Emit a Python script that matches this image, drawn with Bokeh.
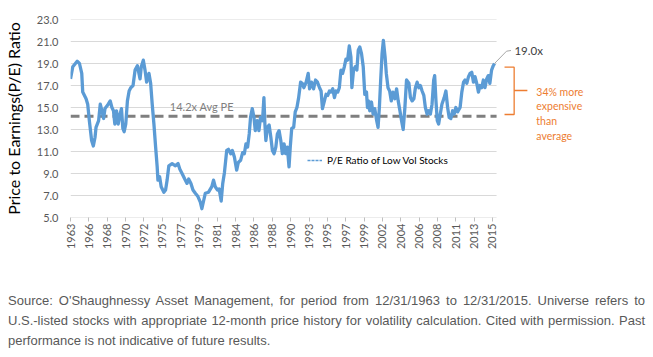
import math
from bokeh.plotting import figure
from bokeh.models import (Range1d, FixedTicker, PrintfTickFormatter, Label,
                          Legend, LegendItem, Div)
from bokeh.layouts import column
from bokeh.embed import file_html
from bokeh.resources import INLINE

# ---------------- data ----------------
years = [1964.00, 1964.28, 1964.82, 1965.10, 1965.38, 1965.50, 1965.91, 1966.11,
         1966.31, 1966.59, 1966.80, 1967.01, 1967.13, 1967.45, 1967.65, 1967.86,
         1968.06, 1968.23, 1968.54, 1968.87, 1969.08, 1969.27, 1969.44, 1969.64,
         1969.85, 1970.05, 1970.25, 1970.42, 1970.58, 1970.78, 1970.98, 1971.19,
         1971.39, 1971.67, 1971.92, 1972.20, 1972.53, 1972.68, 1972.93, 1973.14,
         1973.34, 1973.62, 1973.83, 1974.02, 1974.23, 1974.44, 1974.63, 1974.72,
         1974.93, 1975.12, 1975.45, 1975.66, 1975.85, 1976.06, 1976.46, 1976.87,
         1977.19, 1977.40, 1977.68, 1978.01, 1978.29, 1978.49, 1978.77, 1979.02,
         1979.31, 1979.63, 1979.92, 1980.11, 1980.32, 1980.53, 1980.93, 1981.33,
         1981.54, 1981.75, 1982.03, 1982.23, 1982.48, 1982.67, 1982.88, 1983.16,
         1983.37, 1983.65, 1983.85, 1984.10, 1984.38, 1984.58, 1984.86, 1985.11,
         1985.32, 1985.52, 1985.72, 1985.92, 1986.08, 1986.29, 1986.50, 1986.66,
         1986.90, 1987.11, 1987.30, 1987.55, 1987.72, 1987.84, 1987.96, 1988.15,
         1988.36, 1988.57, 1988.76, 1988.97, 1989.18, 1989.37, 1989.58, 1989.79,
         1989.98, 1990.19, 1990.39, 1990.59, 1990.80, 1990.95, 1991.13, 1991.37,
         1991.56, 1991.77, 1991.98, 1992.22, 1992.42, 1992.62, 1992.90, 1993.15,
         1993.32, 1993.56, 1993.81, 1994.05, 1994.29, 1994.54, 1994.73, 1994.90,
         1995.14, 1995.34, 1995.55, 1995.75, 1995.95, 1996.16, 1996.37, 1996.56,
         1996.77, 1996.97, 1997.17, 1997.37, 1997.58, 1997.78, 1997.98, 1998.19,
         1998.39, 1998.51, 1998.71, 1998.92, 1999.12, 1999.29, 1999.48, 1999.69,
         1999.90, 2000.09, 2000.30, 2000.42, 2000.54, 2000.70, 2000.91, 2001.11,
         2001.31, 2001.55, 2001.72, 2001.88, 2002.04, 2002.21, 2002.37, 2002.58,
         2002.73, 2002.94, 2003.14, 2003.34, 2003.55, 2003.79, 2003.99, 2004.19,
         2004.40, 2004.60, 2004.80, 2005.01, 2005.21, 2005.50, 2005.69, 2005.90,
         2006.11, 2006.30, 2006.51, 2006.72, 2006.91, 2007.12, 2007.33, 2007.52,
         2007.73, 2007.93, 2008.13, 2008.34, 2008.54, 2008.66, 2008.82, 2008.98,
         2009.15, 2009.35, 2009.55, 2009.83, 2010.04, 2010.25, 2010.44, 2010.65,
         2010.86, 2011.05, 2011.26, 2011.47, 2011.78, 2011.99, 2012.20, 2012.39,
         2012.60, 2012.81, 2013.00, 2013.21, 2013.42, 2013.61, 2013.82, 2014.03,
         2014.22, 2014.43, 2014.63, 2014.83, 2015.04, 2015.24, 2015.43, 2015.64,
         2015.85, 2016.00]
pe = [17.6, 18.7, 19.2, 19.0, 18.1, 16.4, 15.8, 15.3,
      13.8, 12.0, 11.5, 12.3, 13.2, 13.8, 15.3, 14.7,
      14.0, 14.9, 15.2, 15.6, 15.0, 14.7, 13.5, 14.7,
      13.5, 14.3, 14.9, 13.1, 12.8, 13.5, 15.6, 16.5,
      16.8, 17.0, 18.4, 18.8, 17.6, 18.7, 19.3, 18.4,
      17.3, 18.1, 17.2, 15.3, 13.5, 11.4, 9.6, 8.4,
      8.7, 7.8, 7.3, 7.5, 8.4, 9.7, 9.9, 9.7,
      9.9, 9.4, 9.0, 8.5, 8.1, 8.5, 8.1, 7.5,
      7.2, 6.9, 6.4, 5.8, 6.5, 7.2, 7.3, 7.8,
      8.4, 7.8, 7.5, 7.6, 6.5, 8.1, 9.1, 11.1,
      11.2, 10.8, 11.1, 10.5, 9.3, 10.0, 10.2, 10.9,
      10.8, 11.7, 11.4, 12.6, 14.1, 14.9, 14.1, 12.9,
      13.8, 12.9, 14.1, 13.8, 15.9, 13.5, 12.0, 13.2,
      13.4, 12.3, 11.1, 10.8, 11.4, 12.6, 12.9, 12.0,
      10.8, 11.7, 10.8, 11.4, 9.6, 11.4, 13.1, 13.2,
      14.6, 15.0, 15.9, 17.3, 17.2, 16.8, 17.3, 18.1,
      16.7, 17.3, 16.7, 17.5, 17.3, 16.8, 16.5, 14.9,
      15.6, 16.2, 16.1, 16.5, 16.4, 16.7, 15.9, 16.5,
      16.4, 16.8, 18.4, 18.1, 18.7, 19.4, 19.3, 20.6,
      19.6, 16.8, 18.4, 18.7, 18.4, 20.2, 20.5, 19.9,
      18.7, 16.2, 16.4, 15.0, 15.6, 14.7, 15.5, 14.4,
      14.9, 13.8, 13.2, 15.0, 17.5, 19.9, 21.1, 19.6,
      18.1, 16.8, 16.5, 15.6, 16.4, 15.8, 16.7, 15.6,
      14.7, 13.8, 13.0, 15.0, 17.5, 17.2, 15.9, 15.6,
      15.8, 16.8, 17.3, 16.8, 17.0, 16.5, 16.1, 15.0,
      14.4, 14.7, 14.4, 15.3, 17.5, 17.9, 15.6, 13.8,
      13.5, 14.4, 15.3, 15.9, 16.5, 15.0, 14.1, 14.0,
      14.7, 14.4, 15.0, 14.6, 15.0, 16.4, 17.3, 17.5,
      17.2, 17.8, 18.1, 18.2, 17.3, 17.8, 17.2, 16.4,
      17.0, 16.8, 17.5, 16.8, 17.6, 17.9, 17.2, 18.4,
      18.8, 19.0]
tick_labels = ["1963", "1966", "1968", "1970", "1972", "1975", "1977", "1979",
               "1981", "1984", "1986", "1988", "1990", "1993", "1995", "1997",
               "1999", "2002", "2004", "2006", "2008", "2011", "2013", "2015"]
y_ticks = [5, 7, 9, 11, 13, 15, 17, 19, 21, 23]
avg_pe = 14.2
series_name = "P/E Ratio of Low Vol Stocks"
premium_lines = ["34% more", "expensive", "than", "average"]
y_title = "Price to Earnings(P/E) Ratio"
footnote = ("Source: O'Shaughnessy Asset Management, for period from 12/31/1963 to 12/31/2015. "
            "Universe refers to U.S.-listed stocks with appropriate 12-month price history for "
            "volatility calculation. Cited with permission. Past performance is not indicative "
            "of future results.")

# ---------------- layout helpers ----------------
FONT = "Lato"
W, H = 653, 280
LEFT, TOP = 66, 19
X0 = 1964.0
PX_PER_YEAR = 8.21
PLOT_RIGHT_PX = 495
Y_MIN, Y_MAX = 5, 23
FRAME_H = 198


def px2x(px):
    return X0 + (px - LEFT) / PX_PER_YEAR


def py2y(py):
    return Y_MAX - (py - TOP) * (Y_MAX - Y_MIN) / FRAME_H


X_END = px2x(PLOT_RIGHT_PX)
tick_pos = [X0 + i * 27 / 12 for i in range(len(tick_labels))]

p = figure(width=W, height=H, output_backend="svg", toolbar_location=None,
           x_range=Range1d(X0, px2x(W)), y_range=Range1d(Y_MIN, Y_MAX),
           min_border_left=LEFT, min_border_right=0, min_border_top=TOP,
           min_border_bottom=H - TOP - FRAME_H)
p.outline_line_color = None
p.background_fill_color = "white"
p.border_fill_color = "white"
p.xgrid.visible = False
p.ygrid.visible = False

# gridlines (only across the chart area)
n = len(y_ticks)
p.segment(x0=[X0] * n, y0=y_ticks, x1=[X_END] * n, y1=y_ticks,
          line_color="#d9d9d9", line_width=1)

# average line
p.segment(x0=[X0], y0=[avg_pe], x1=[X_END], y1=[avg_pe],
          line_color="#7f7f7f", line_width=3, line_dash="9 5")

# series
series = p.line(years, pe, line_color="#5B9BD5", line_width=3.3, line_join="round")

# y axis
ya = p.yaxis[0]
ya.ticker = FixedTicker(ticks=y_ticks)
ya.formatter = PrintfTickFormatter(format="%.1f")
ya.axis_line_color = None
ya.major_tick_line_color = None
ya.minor_tick_line_color = None
ya.major_tick_out = 0
ya.major_tick_in = 0
ya.minor_tick_out = 0
ya.major_label_standoff = 12
ya.major_label_text_font = FONT
ya.major_label_text_font_size = "11px"
ya.major_label_text_color = "#595959"
ya.axis_label = y_title
ya.axis_label_text_font = FONT
ya.axis_label_text_font_size = "16px"
ya.axis_label_text_font_style = "normal"
ya.axis_label_text_color = "#000000"
ya.axis_label_standoff = 11

# x axis
xa = p.xaxis[0]
xa.ticker = FixedTicker(ticks=tick_pos)
xa.major_label_overrides = {t: lab for t, lab in zip(tick_pos, tick_labels)}
xa.major_label_orientation = math.pi / 2
xa.axis_line_color = None
xa.major_tick_line_color = "#bfbfbf"
xa.major_tick_out = 4
xa.major_tick_in = 0
xa.minor_tick_line_color = None
xa.minor_tick_out = 0
xa.major_label_standoff = 2
xa.major_label_text_font = FONT
xa.major_label_text_font_size = "11px"
xa.major_label_text_color = "#595959"

# legend (thin dashed key like the reference)
key = p.line(x=[float("nan")], y=[float("nan")], line_color="#5B9BD5",
             line_width=1.3, line_dash="3 1")
legend = Legend(items=[LegendItem(label=series_name, renderers=[key])],
                location=(237, 50), background_fill_alpha=0, border_line_alpha=0,
                padding=0, margin=0, spacing=0, glyph_width=15, glyph_height=14,
                label_standoff=5, label_height=14, label_text_font=FONT,
                label_text_font_size="10px", label_text_color="#000000")
p.add_layout(legend)

# average label
p.add_layout(Label(x=px2x(166), y=py2y(106), text=f"{avg_pe}x Avg PE",
                   text_baseline="middle", text_font=FONT, text_font_size="11px",
                   text_color="#7f7f7f"))

# leader line + last value label
p.line(x=[years[-1], px2x(505), px2x(509.5)], y=[pe[-1], py2y(50.7), py2y(50)],
       line_color="#a6a6a6", line_width=1)
p.add_layout(Label(x=px2x(513), y=py2y(50), text=f"{pe[-1]:.1f}x",
                   text_baseline="middle", text_font=FONT, text_font_size="11.5px",
                   text_color="#404040"))

# orange bracket
b_top, b_bot, b_mid = py2y(66.7), py2y(114), py2y(90)
xl, xv, xt = px2x(503), px2x(512.7), px2x(526)
p.multi_line(xs=[[xl, xv, xv, xl], [xv, xt]],
             ys=[[b_top, b_top, b_bot, b_bot], [b_mid, b_mid]],
             line_color="#ED7D31", line_width=1.3)
for i, line in enumerate(premium_lines):
    p.add_layout(Label(x=px2x(535), y=py2y(91 + 14.8 * i), text=line,
                       text_baseline="middle", text_font=FONT, text_font_size="10.5px",
                       text_color="#ED7D31"))

note = Div(text=footnote, width=637, height=62, margin=(11, 8, 0, 8),
           styles={"font-family": "'Liberation Sans', Arial, sans-serif",
                   "font-size": "13px", "line-height": "20px", "color": "#595959",
                   "text-align": "justify"})

layout = column(p, note, spacing=0)
open("out.html", "w").write(file_html(layout, INLINE))
